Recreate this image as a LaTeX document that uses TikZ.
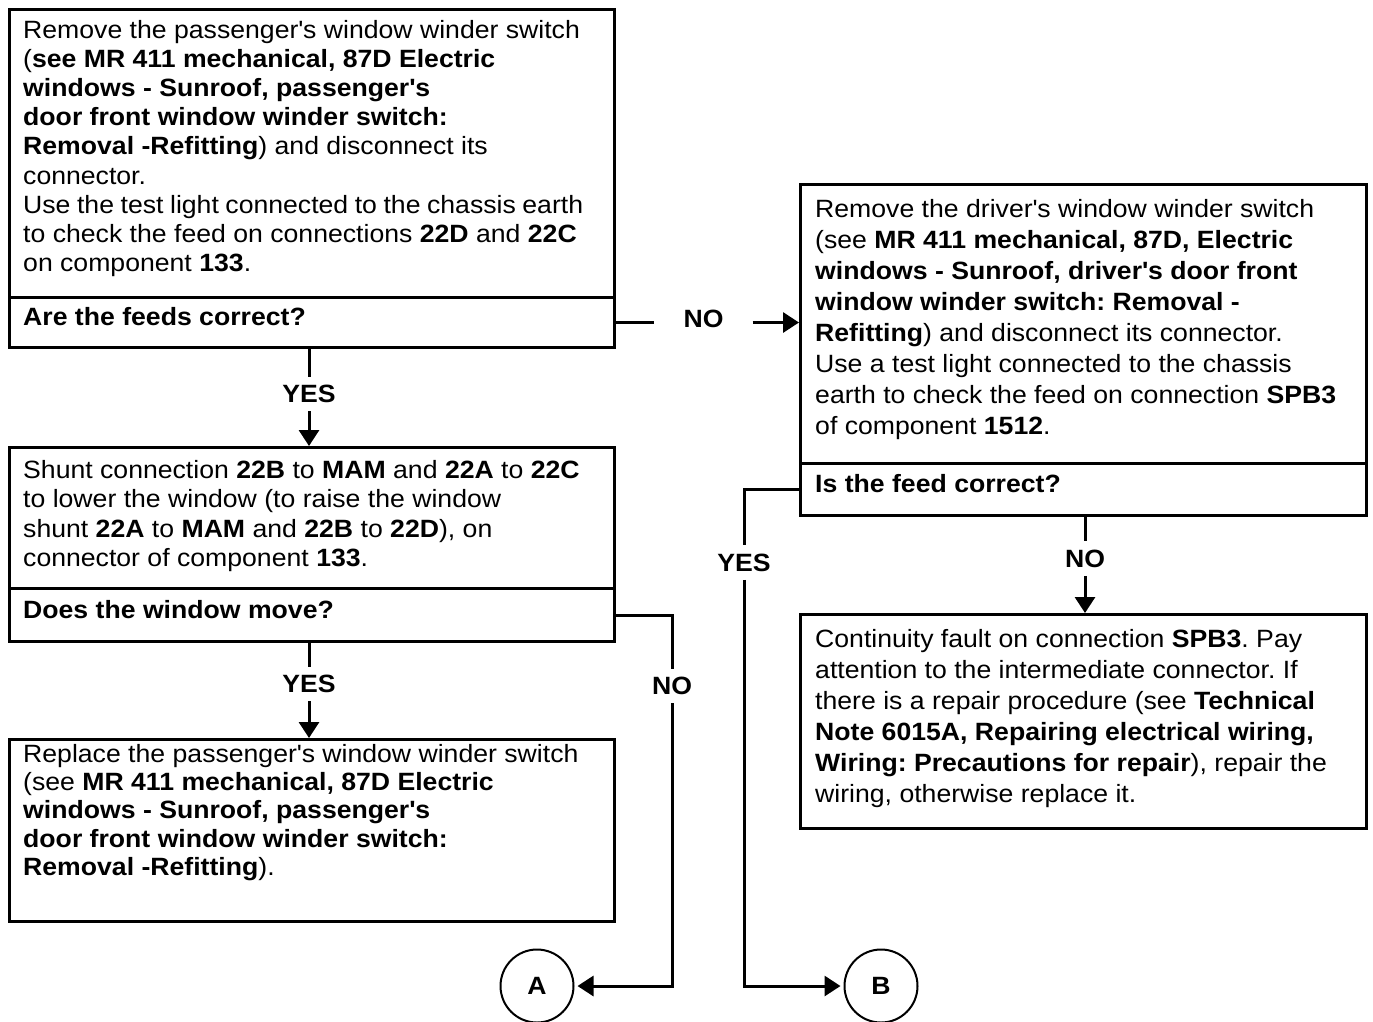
\documentclass[tikz,border=0pt]{standalone}
\usepackage{fontspec}
\newfontfamily\dfont[FakeStretch=1.065]{Liberation Sans}
\usetikzlibrary{arrows.meta}
\newcommand\ap{\textquotesingle}
% multi-line text block whose reference point is the first baseline
\newcommand\txtblock[2]{\parbox[t]{560pt}{\dfont\frenchspacing\fontsize{25}{#1}\selectfont #2}}
\tikzset{
  x=1pt, y=-1pt,
  frame/.style={draw, rectangle, line width=3pt, inner sep=0pt, anchor=north west},
  body/.style={anchor=base west, inner sep=0pt},
  lbl/.style={font=\dfont\bfseries\fontsize{25}{28}\selectfont, inner xsep=0pt, inner ysep=8.3pt},
  lblh/.style={lbl, inner xsep=29pt},
  wire/.style={line width=3pt},
  flow/.style={wire, -{Triangle[length=16pt,width=20pt]}},
  conn/.style={circle, draw, line width=2pt, minimum size=73pt, inner sep=0pt,
    font=\dfont\bfseries\fontsize{25}{28}\selectfont}
}
\begin{document}
\begin{tikzpicture}
\useasboundingbox (0,0) rectangle (1373,1021);

% ---- left column ----
\node[frame, minimum width=605pt, minimum height=288.5pt] (b1) at (8,7.5) {};
\node[frame, minimum width=605pt, minimum height=50pt] (q1) at (8,296) {};
\node[body] (t1) at (23,38) {\txtblock{29.2pt}{%
Remove the passenger\ap s window winder switch\\
(\textbf{see MR 411 mechanical, 87D Electric}\\
\textbf{windows - Sunroof, passenger\ap s}\\
\textbf{door front window winder switch:}\\
\textbf{Removal -Refitting}) and disconnect its\\
connector.\\
Use the test light connected to the chassis earth\\
to check the feed on connections \textbf{22D} and \textbf{22C}\\
on component \textbf{133}.}};
\node[body] (tq1) at (23,325) {\txtblock{29.2pt}{\textbf{Are the feeds correct?}}};

\node[frame, minimum width=605pt, minimum height=141pt] (b2) at (8,446) {};
\node[frame, minimum width=605pt, minimum height=53pt] (q2) at (8,587) {};
\node[body] (t2) at (23,478) {\txtblock{29.6pt}{%
Shunt connection \textbf{22B} to \textbf{MAM} and \textbf{22A} to \textbf{22C}\\
to lower the window (to raise the window\\
shunt \textbf{22A} to \textbf{MAM} and \textbf{22B} to \textbf{22D}), on\\
connector of component \textbf{133}.}};
\node[body] (tq2) at (23,618) {\txtblock{29.2pt}{\textbf{Does the window move?}}};

\node[frame, minimum width=605pt, minimum height=182pt] (b3) at (8,738) {};
\node[body] (t3) at (23,762) {\txtblock{28.4pt}{%
Replace the passenger\ap s window winder switch\\
(see \textbf{MR 411 mechanical, 87D Electric}\\
\textbf{windows - Sunroof, passenger\ap s}\\
\textbf{door front window winder switch:}\\
\textbf{Removal -Refitting}).}};

% ---- right column ----
\node[frame, minimum width=566pt, minimum height=278.5pt] (b4) at (799,183) {};
\node[frame, minimum width=566pt, minimum height=52.5pt] (q4) at (799,461.5) {};
\node[body] (t4) at (815,217) {\txtblock{31pt}{%
Remove the driver\ap s window winder switch\\
(see \textbf{MR 411 mechanical, 87D, Electric}\\
\textbf{windows - Sunroof, driver\ap s door front}\\
\textbf{window winder switch: Removal -}\\
\textbf{Refitting}) and disconnect its connector.\\
Use a test light connected to the chassis\\
earth to check the feed on connection \textbf{SPB3}\\
of component \textbf{1512}.}};
\node[body] (tq4) at (815,492) {\txtblock{29.2pt}{\textbf{Is the feed correct?}}};

\node[frame, minimum width=566pt, minimum height=214pt] (b5) at (799,613) {};
\node[body] (t5) at (815,647) {\txtblock{31pt}{%
Continuity fault on connection \textbf{SPB3}. Pay\\
attention to the intermediate connector. If\\
there is a repair procedure (see \textbf{Technical}\\
\textbf{Note 6015A, Repairing electrical wiring,}\\
\textbf{Wiring: Precautions for repair}), repair the\\
wiring, otherwise replace it.}};

% ---- branch labels and off-page connectors ----
\node[lbl] (yes1) at (309,394) {YES};
\node[lblh] (no1) at (703.5,319) {NO};
\node[lbl] (yes3) at (309,684) {YES};
\node[lbl] (no2) at (672,686) {NO};
\node[lbl] (yes2) at (744,562.5) {YES};
\node[lbl] (no3) at (1085,558.5) {NO};
\node[conn] (A) at (537,986) {A};
\node[conn] (B) at (881,986) {B};

% ---- connectors ----
\draw[wire] (yes1 |- q1.south) -- (yes1.north);
\draw[flow] (yes1.south) -- (yes1 |- b2.north);
\draw[wire] (q1.east) -- (q1.east -| no1.west);
\draw[flow] (q1.east -| no1.east) -- (q1.east -| b4.west);
\draw[wire] (yes3 |- q2.south) -- (yes3.north);
\draw[flow] (yes3.south) -- (yes3 |- b3.north);
\draw[wire] (q2.east) -| (no2.north);
\draw[flow, shorten >=3pt] (no2.south) |- (A.east);
\draw[wire] (q4.west) -| (yes2.north);
\draw[flow, shorten >=3pt] (yes2.south) |- (B.west);
\draw[wire] (no3 |- q4.south) -- (no3.north);
\draw[flow] (no3.south) -- (no3 |- b5.north);
\end{tikzpicture}
\end{document}
